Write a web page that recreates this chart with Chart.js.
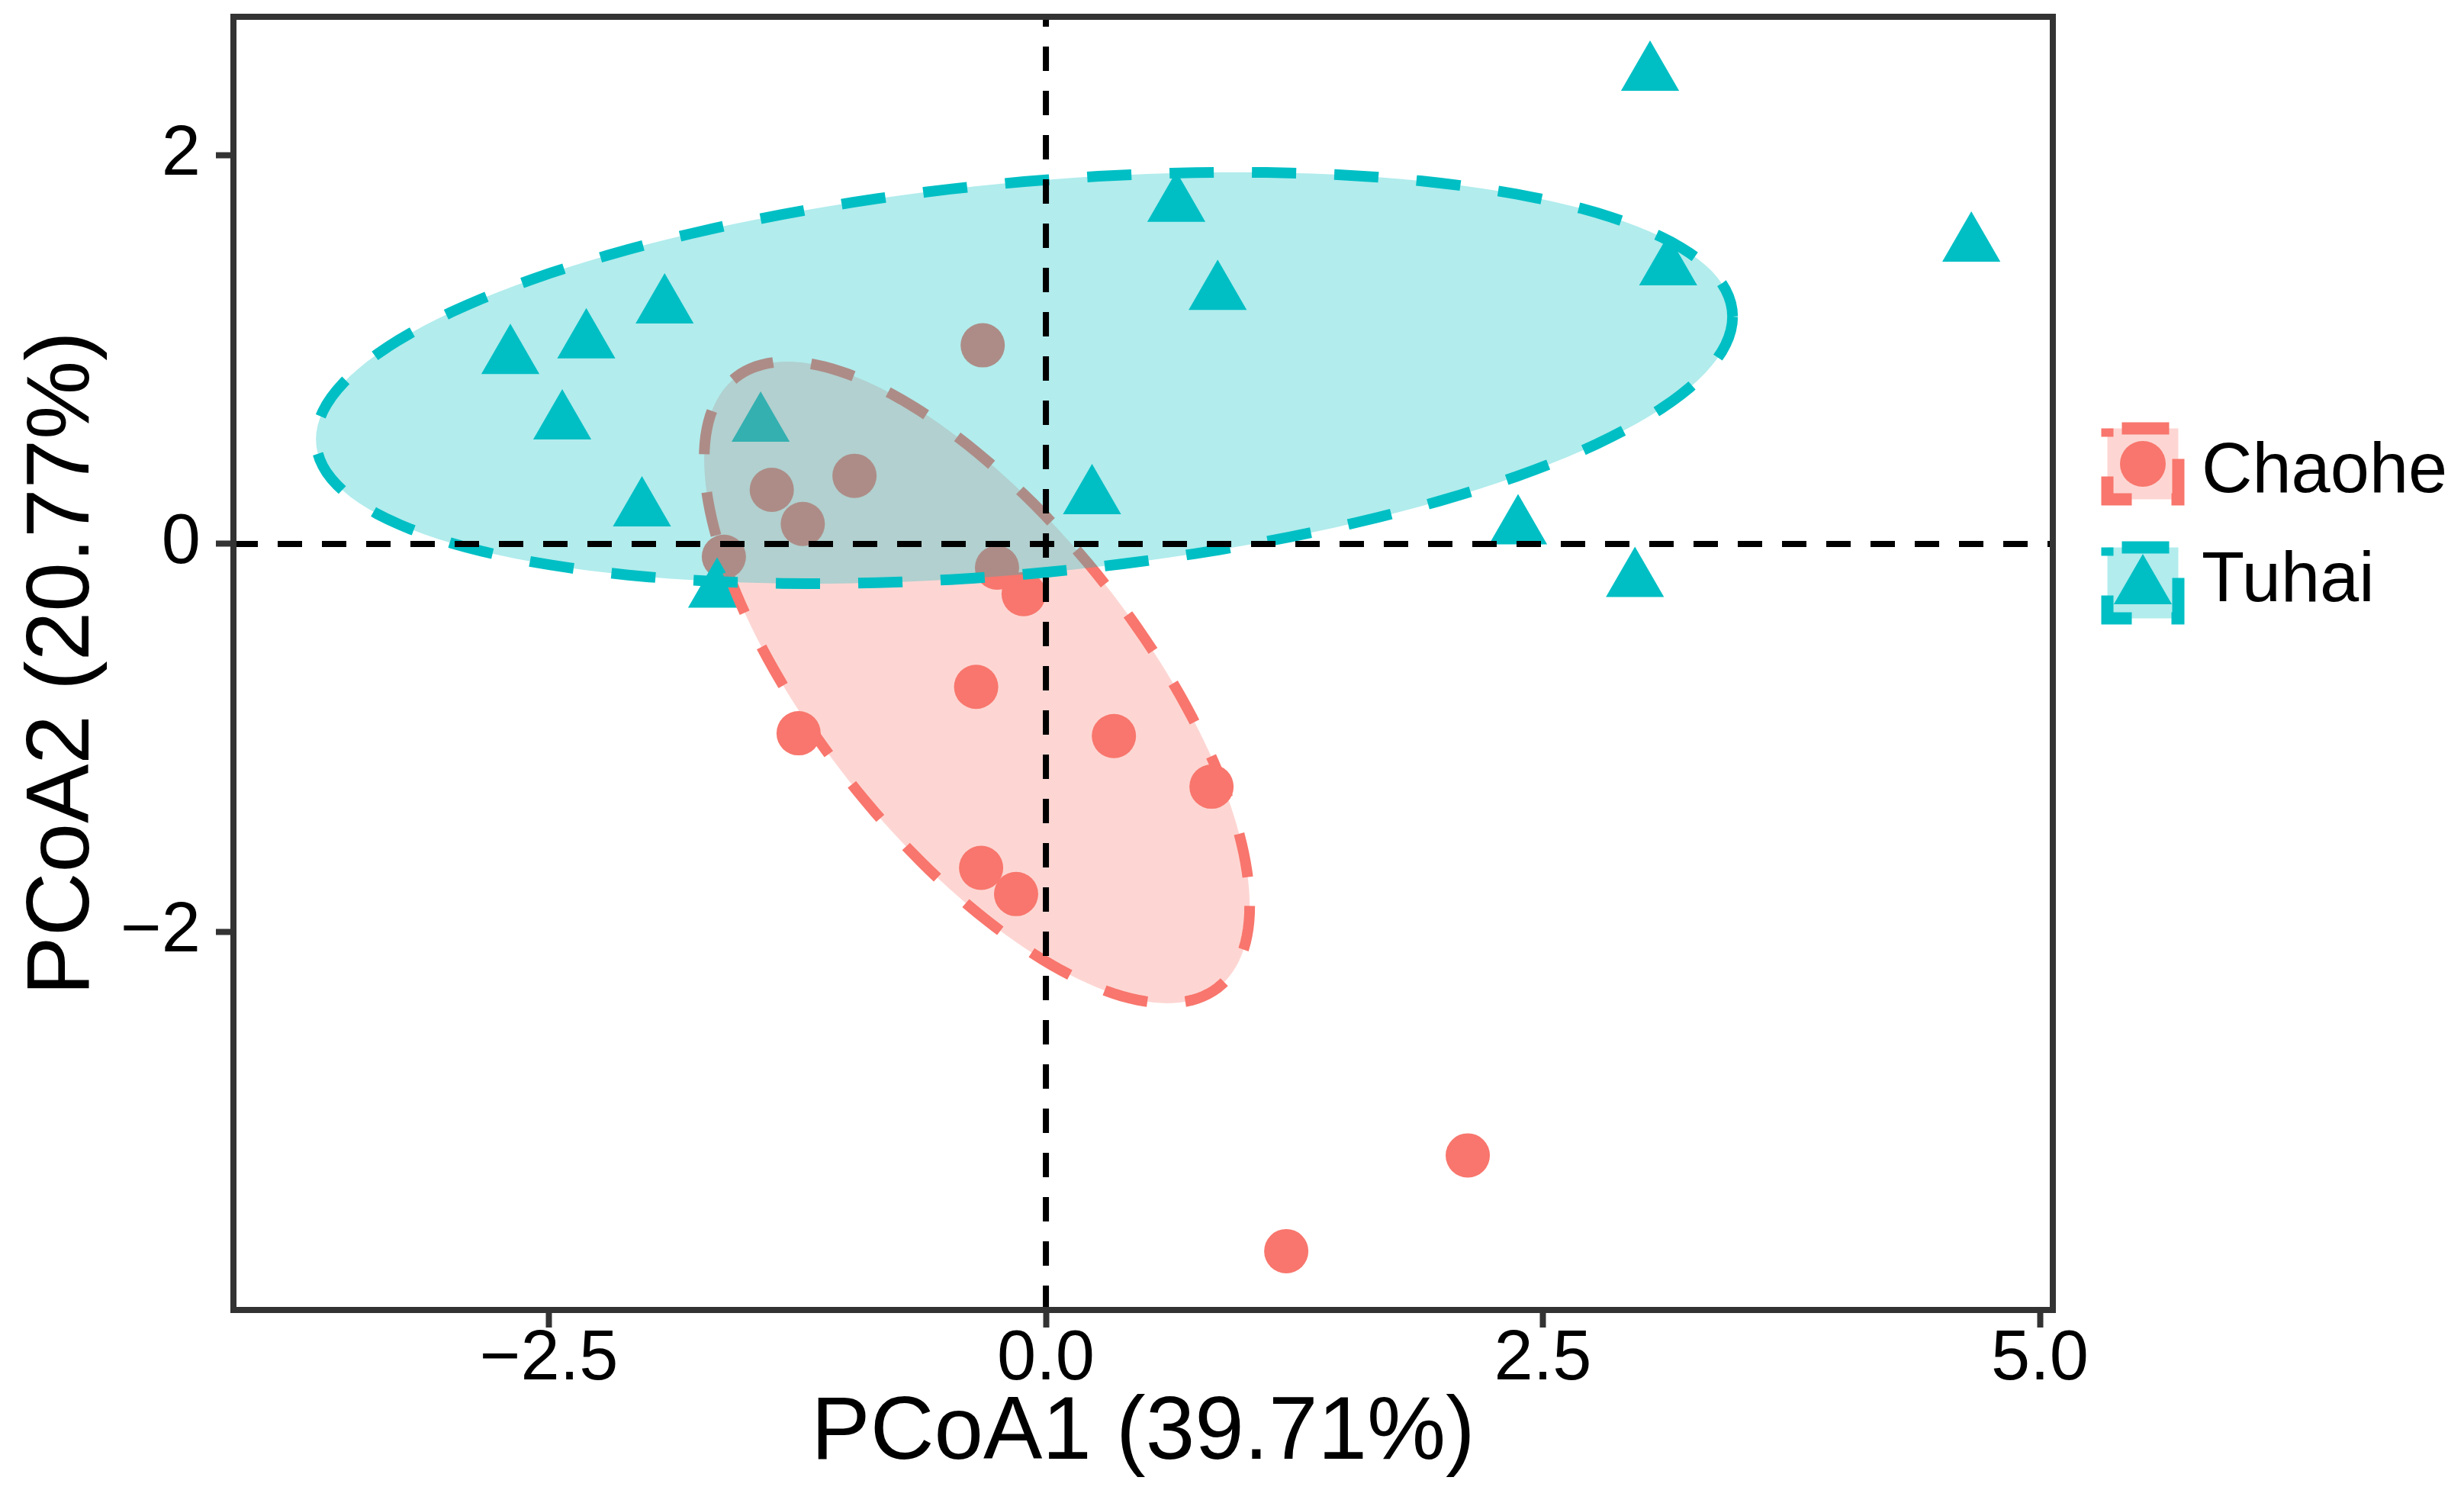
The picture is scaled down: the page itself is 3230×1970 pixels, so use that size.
<!DOCTYPE html>
<html>
<head>
<meta charset="utf-8">
<script src="https://cdn.jsdelivr.net/npm/chart.js@4.4.1/dist/chart.umd.min.js"></script>
<style>
  html, body { margin: 0; padding: 0; background: #fff; }
  canvas { display: block; }
</style>
</head>
<body>
<canvas id="pcoa" width="3230" height="1970"></canvas>
<script>
// PCoA scores
const groups = ['Chaohe', 'Tuhai'];
const chaoheX = [-0.318, -0.963, -1.379, -1.223, -1.620, -0.246, -0.112, -0.351, -1.244, 0.342, 0.833, -0.326, -0.150, 2.122, 1.209];
const chaoheY = [1.023, 0.351, 0.279, 0.103, -0.066, -0.122, -0.258, -0.736, -0.975, -0.989, -1.250, -1.668, -1.803, -3.149, -3.642];
const tuhaiX = [3.039, 4.655, 3.130, 0.656, 0.864, -2.694, -2.312, -1.918, -2.433, -1.435, -2.032, 0.232, 2.375, 2.963, -1.654];
const tuhaiY = [2.420, 1.540, 1.418, 1.745, 1.292, 0.962, 1.042, 1.222, 0.625, 0.613, 0.177, 0.240, 0.084, -0.187, -0.242];

// confidence ellipses: centre and two conjugate half-axes (PCoA units)
const chaoheCentre = [-0.347, -0.713];
const chaoheAxisA = [1.372, -1.151];
const chaoheAxisB = [0, -1.185];
const tuhaiCentre = [-0.109, 0.855];
const tuhaiAxisA = [3.563, 0.316];
const tuhaiAxisB = [0, -1.011];

const xRange = [-4.087, 5.065];
const yRange = [-3.945, 2.715];
const xTicks = [-2.5, 0, 2.5, 5];
const xTickLabels = ['\u22122.5', '0.0', '2.5', '5.0'];
const yTicks = [-2, 0, 2];
const yTickLabels = ['\u22122', '0', '2'];

const red = '#F8766D';
const teal = '#00BFC4';
const redFill = 'rgba(248,118,109,0.3)';
const tealFill = 'rgba(0,191,196,0.3)';
const FONT = "'Liberation Sans', Arial, sans-serif";

function toPoints(xs, ys) {
    return xs.map((x, i) => ({ x: x, y: ys[i] }));
}

function ellipse(c, a, b) {
    const pts = [];
    for (let i = 0; i <= 180; i++) {
        const t = i / 180 * 2 * Math.PI;
        pts.push({
            x: c[0] + a[0] * Math.cos(t) + b[0] * Math.sin(t),
            y: c[1] + a[1] * Math.cos(t) + b[1] * Math.sin(t)
        });
    }
    return pts;
}

function drawMarker(ctx, shape, x, y, color) {
    ctx.fillStyle = color;
    ctx.beginPath();
    if (shape === 'circle') {
        ctx.arc(x, y, 30, 0, 2 * Math.PI);
    } else {
        const r = 44;
        ctx.moveTo(x, y - r);
        ctx.lineTo(x + r * 0.866, y + r / 2);
        ctx.lineTo(x - r * 0.866, y + r / 2);
        ctx.closePath();
    }
    ctx.fill();
}

// panel frame + legend on the right
const framePlugin = {
    id: 'frameAndLegend',
    afterDraw(chart) {
        const ctx = chart.ctx;
        const a = chart.chartArea;
        ctx.save();
        ctx.strokeStyle = '#333333';
        ctx.lineWidth = 8;
        ctx.strokeRect(a.left, a.top, a.right - a.left, a.bottom - a.top);

        const keys = [
            { cy: 608, base: 645, color: red, fill: redFill, shape: 'circle' },
            { cy: 764, base: 788, color: teal, fill: tealFill, shape: 'triangle' }
        ];
        keys.forEach((k, i) => {
            const s = 93, cx = 2809, x0 = cx - s / 2, y0 = k.cy - s / 2;
            ctx.fillStyle = k.fill;
            ctx.fillRect(x0, y0, s, s);
            ctx.save();
            ctx.setLineDash([62, 52]);
            ctx.lineDashOffset = -19;
            ctx.lineWidth = 16;
            ctx.strokeStyle = k.color;
            ctx.strokeRect(x0, y0, s, s);
            ctx.restore();
            drawMarker(ctx, k.shape, cx, k.cy + (k.shape === 'triangle' ? 6 : 0), k.color);
            ctx.fillStyle = '#000';
            ctx.font = '92px ' + FONT;
            ctx.textAlign = 'left';
            ctx.textBaseline = 'alphabetic';
            ctx.fillText(groups[i], 2886, k.base);
        });
        ctx.restore();
    }
};

const ctx = document.getElementById('pcoa').getContext('2d');
const chart = new Chart(ctx, {
    type: 'scatter',
    data: {
        datasets: [{
            label: groups[0],
            data: toPoints(chaoheX, chaoheY),
            pointStyle: 'circle',
            pointRadius: 29,
            backgroundColor: red,
            borderWidth: 0,
            order: 4
        }, {
            label: groups[1],
            data: toPoints(tuhaiX, tuhaiY),
            pointStyle: 'triangle',
            pointRadius: 44,
            backgroundColor: teal,
            borderWidth: 0,
            order: 3
        }, {
            label: groups[0] + ' ellipse',
            data: ellipse(chaoheCentre, chaoheAxisA, chaoheAxisB),
            showLine: true,
            pointRadius: 0,
            borderColor: red,
            borderWidth: 14,
            borderDash: [58, 50],
            backgroundColor: redFill,
            fill: 'shape',
            tension: 0,
            order: 2
        }, {
            label: groups[1] + ' ellipse',
            data: ellipse(tuhaiCentre, tuhaiAxisA, tuhaiAxisB),
            showLine: true,
            pointRadius: 0,
            borderColor: teal,
            borderWidth: 14,
            borderDash: [58, 50],
            backgroundColor: tealFill,
            fill: 'shape',
            tension: 0,
            order: 1
        }, {
            label: 'x = 0',
            data: [{ x: 0, y: yRange[0] }, { x: 0, y: yRange[1] }],
            showLine: true,
            pointRadius: 0,
            borderColor: '#000',
            borderWidth: 8,
            borderDash: [32, 26],
            order: 0
        }, {
            label: 'y = 0',
            data: [{ x: xRange[0], y: 0 }, { x: xRange[1], y: 0 }],
            showLine: true,
            pointRadius: 0,
            borderColor: '#000',
            borderWidth: 8,
            borderDash: [32, 26],
            order: 0
        }]
    },
    options: {
        responsive: false,
        animation: false,
        devicePixelRatio: 1,
        events: [],
        layout: { autoPadding: false, padding: { left: 0, top: 22, right: 539, bottom: 0 } },
        plugins: {
            legend: { display: false },
            tooltip: { enabled: false }
        },
        scales: {
            x: {
                type: 'linear',
                min: xRange[0],
                max: xRange[1],
                afterBuildTicks: s => { s.ticks = xTicks.map(v => ({ value: v })); },
                afterFit: s => { s.height = 253; s.paddingLeft = 0; s.paddingRight = 0; },
                border: { display: false },
                grid: { drawOnChartArea: false, drawTicks: true, tickLength: 23, tickWidth: 8, tickColor: '#333333' },
                ticks: {
                    color: '#000',
                    font: { family: FONT, size: 92, lineHeight: 1 },
                    padding: -3,
                    maxRotation: 0,
                    autoSkip: false,
                    callback: (v, i) => xTickLabels[i]
                },
                title: {
                    display: true,
                    text: 'PCoA1 (39.71%)',
                    color: '#000',
                    font: { family: FONT, size: 116 },
                    padding: { top: 0, bottom: 20 }
                }
            },
            y: {
                type: 'linear',
                min: yRange[0],
                max: yRange[1],
                afterBuildTicks: s => { s.ticks = yTicks.map(v => ({ value: v })); },
                afterFit: s => { s.width = 306; s.paddingTop = 0; s.paddingBottom = 0; },
                border: { display: false },
                grid: { drawOnChartArea: false, drawTicks: true, tickLength: 23, tickWidth: 8, tickColor: '#333333' },
                ticks: {
                    color: '#000',
                    font: { family: FONT, size: 92, lineHeight: 1 },
                    padding: 20,
                    autoSkip: false,
                    callback: (v, i) => yTickLabels[i]
                },
                title: {
                    display: true,
                    text: 'PCoA2 (20.77%)',
                    color: '#000',
                    font: { family: FONT, size: 116 },
                    padding: { top: 14, bottom: 0 }
                }
            }
        }
    },
    plugins: [framePlugin]
});
</script>
</body>
</html>
